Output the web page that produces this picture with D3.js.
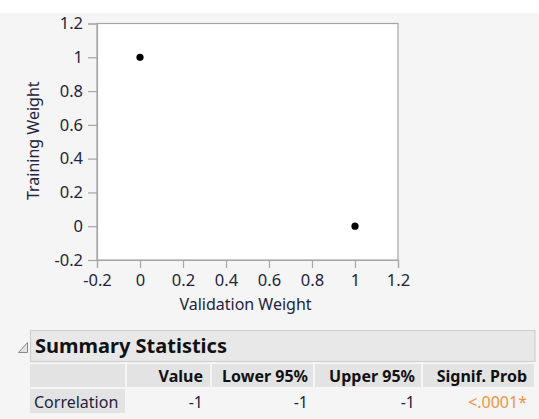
<!DOCTYPE html>
<html>
<head>
<meta charset="utf-8">
<script src="https://cdn.jsdelivr.net/npm/d3@7"></script>
<style>
  html, body { margin: 0; padding: 0; background: #ffffff; }
  svg { display: block; font-family: "Noto Sans", "DejaVu Sans", sans-serif; }
</style>
</head>
<body>
<svg id="chart" width="539" height="419"></svg>
<script>
// Bivariate weights: validation vs training
const validationWeight = [0, 1];
const trainingWeight = [1, 0];

const xTicks = [-0.2, 0, 0.2, 0.4, 0.6, 0.8, 1, 1.2];
const yTicks = [-0.2, 0, 0.2, 0.4, 0.6, 0.8, 1, 1.2];

// Summary statistics table
const statColumns = ["Value", "Lower 95%", "Upper 95%", "Signif. Prob"];
const statRowLabel = "Correlation";
const statValues = ["-1", "-1", "-1", "<.0001*"];

const svg = d3.select("#chart");
const W = 539, H = 419;

// report background
svg.append("rect").attr("x", 0).attr("y", 13).attr("width", W).attr("height", H - 13)
  .attr("fill", "#f5f5f5");

const plot = { left: 97, right: 398, top: 23.5, bottom: 260 };

const x = d3.scaleLinear().domain([-0.2, 1.2]).range([plot.left, plot.right]);
const y = d3.scaleLinear().domain([-0.2, 1.2]).range([plot.bottom, plot.top]);

const axisColor = "#a6a6a6";
const textColor = "#23233f";

svg.append("rect")
  .attr("x", plot.left).attr("y", plot.top)
  .attr("width", plot.right - plot.left).attr("height", plot.bottom - plot.top)
  .attr("fill", "#ffffff").attr("stroke", axisColor).attr("stroke-width", 1.2);

// plain hyphen for negatives
const fmt = d => String(+d.toFixed(1));

const xAxis = svg.append("g")
  .attr("transform", `translate(0,${plot.bottom})`)
  .call(d3.axisBottom(x).tickValues(xTicks).tickFormat(fmt).tickSize(8).tickPadding(6));
const yAxis = svg.append("g")
  .attr("transform", `translate(${plot.left},0)`)
  .call(d3.axisLeft(y).tickValues(yTicks).tickFormat(fmt).tickSize(9).tickPadding(5));

[xAxis, yAxis].forEach(a => {
  a.select(".domain").attr("stroke", axisColor).attr("stroke-width", 1.2);
  a.selectAll(".tick line").attr("stroke", axisColor).attr("stroke-width", 1.2);
  a.selectAll(".tick text").attr("fill", textColor)
    .style("font-size", "16.5px").style("font-family", "'Noto Sans', sans-serif");
});

// axis titles
svg.append("text")
  .attr("x", (plot.left + plot.right) / 2 - 2).attr("y", 310)
  .attr("text-anchor", "middle").attr("fill", textColor)
  .style("font-size", "16px")
  .text("Validation Weight");
svg.append("text")
  .attr("transform", `translate(39,${(plot.top + plot.bottom) / 2 - 1}) rotate(-90)`)
  .attr("text-anchor", "middle").attr("fill", textColor)
  .style("font-size", "16px")
  .text("Training Weight");

// points
svg.append("g").selectAll("circle")
  .data(validationWeight.map((v, i) => [v, trainingWeight[i]]))
  .join("circle")
  .attr("cx", d => x(d[0])).attr("cy", d => y(d[1]))
  .attr("r", 3.6).attr("fill", "#000");

// Summary Statistics outline node
svg.append("path")
  .attr("d", "M18.5,352.5 L27.5,352.5 L27.5,342.5 Z")
  .attr("fill", "#e4e4e4").attr("stroke", "#8a8a8a").attr("stroke-width", 1);

svg.append("rect")
  .attr("x", 30.5).attr("y", 330.5).attr("width", 504.5).attr("height", 31)
  .attr("fill", "#e8e8e8").attr("stroke", "#cfcfcf").attr("stroke-width", 1.2);
svg.append("text")
  .attr("x", 35).attr("y", 353).attr("fill", "#111")
  .style("font-size", "20px").style("font-weight", "bold")
  .text("Summary Statistics");

// table columns: label column then the statistic columns
const colEdges = [30, 125, 210, 313, 421, 534];
const headerTop = 364, headerBottom = 387, rowTop = 389, rowBottom = 413;

// header cells
svg.append("g").selectAll("rect")
  .data(d3.range(colEdges.length - 1))
  .join("rect")
  .attr("x", i => colEdges[i] + (i ? 2 : 0))
  .attr("y", headerTop)
  .attr("width", i => colEdges[i + 1] - colEdges[i] - (i ? 2 : 0))
  .attr("height", headerBottom - headerTop)
  .attr("fill", "#e3e3e3");

// row label cell
svg.append("rect")
  .attr("x", colEdges[0]).attr("y", rowTop)
  .attr("width", colEdges[1] - colEdges[0]).attr("height", rowBottom - rowTop)
  .attr("fill", "#e3e3e3");

const rightPad = [7, 5, 6, 7];
svg.append("g").selectAll("text")
  .data(statColumns)
  .join("text")
  .attr("x", (d, i) => colEdges[i + 2] - rightPad[i])
  .attr("y", 382)
  .attr("text-anchor", "end").attr("fill", "#111")
  .style("font-size", "16px").style("font-weight", "bold")
  .text(d => d);

svg.append("text")
  .attr("x", 34).attr("y", 408).attr("fill", textColor)
  .style("font-size", "16px")
  .text(statRowLabel);

svg.append("g").selectAll("text")
  .data(statValues)
  .join("text")
  .attr("x", (d, i) => colEdges[i + 2] - rightPad[i])
  .attr("y", 408)
  .attr("text-anchor", "end")
  .attr("fill", (d, i) => i === statValues.length - 1 ? "#ef9440" : textColor)
  .style("font-size", "16px")
  .text(d => d);
</script>
</body>
</html>
